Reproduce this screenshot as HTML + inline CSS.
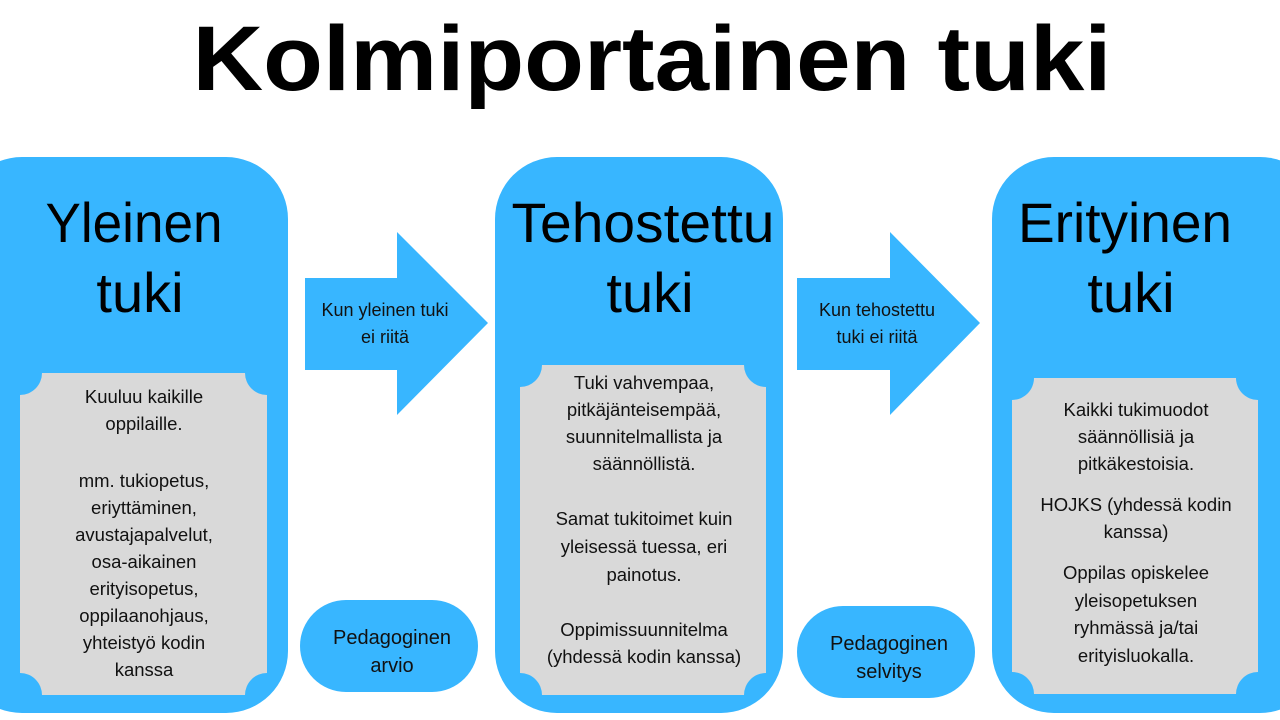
<!DOCTYPE html>
<html><head><meta charset="utf-8"><style>
html,body{margin:0;padding:0;background:#fff;}
svg{display:block;font-family:"Liberation Sans",sans-serif;}
</style></head><body>
<svg width="1280" height="720" viewBox="0 0 1280 720" xmlns="http://www.w3.org/2000/svg">
<text x="652" y="90" text-anchor="middle" font-size="92" font-weight="bold" textLength="919" lengthAdjust="spacingAndGlyphs" fill="#000">Kolmiportainen tuki</text>
<g fill="#38b6ff">
<rect x="-40" y="157" width="328" height="556" rx="62"/>
<rect x="495" y="157" width="288" height="556" rx="62"/>
<rect x="992" y="157" width="330" height="556" rx="62"/>
<polygon points="305,278 397,278 397,232 488,323 397,415 397,370 305,370"/>
<polygon points="797,278 890,278 890,232 980,323 890,415 890,370 797,370"/>
<rect x="300" y="600" width="178" height="92" rx="46"/>
<rect x="797" y="606" width="178" height="92" rx="46"/>
</g>
<g fill="#d9d9d9">
<path d="M42,373 L245,373 A22,22 0 0 0 267,395 L267,673 A22,22 0 0 0 245,695 L42,695 A22,22 0 0 0 20,673 L20,395 A22,22 0 0 0 42,373 Z"/>
<path d="M542,365 L744,365 A22,22 0 0 0 766,387 L766,673 A22,22 0 0 0 744,695 L542,695 A22,22 0 0 0 520,673 L520,387 A22,22 0 0 0 542,365 Z"/>
<path d="M1034,378 L1236,378 A22,22 0 0 0 1258,400 L1258,672 A22,22 0 0 0 1236,694 L1034,694 A22,22 0 0 0 1012,672 L1012,400 A22,22 0 0 0 1034,378 Z"/>
</g>
<g font-size="56" text-anchor="middle" fill="#000">
<text x="134" y="242" textLength="177" lengthAdjust="spacingAndGlyphs">Yleinen</text>
<text x="140" y="312">tuki</text>
<text x="643" y="242" textLength="263" lengthAdjust="spacingAndGlyphs">Tehostettu</text>
<text x="650" y="312">tuki</text>
<text x="1125" y="242" textLength="214" lengthAdjust="spacingAndGlyphs">Erityinen</text>
<text x="1131" y="312">tuki</text>
</g>
<g font-size="18" text-anchor="middle" fill="#111">
<text x="385" y="316">Kun yleinen tuki</text>
<text x="385" y="343">ei riitä</text>
<text x="877" y="316">Kun tehostettu</text>
<text x="877" y="343">tuki ei riitä</text>
<text x="392" y="644" font-size="20">Pedagoginen</text>
<text x="392" y="672" font-size="20">arvio</text>
<text x="889" y="650" font-size="20">Pedagoginen</text>
<text x="889" y="678" font-size="20">selvitys</text>
<g font-size="18.5">
<text x="144" y="403">Kuuluu kaikille</text>
<text x="144" y="430">oppilaille.</text>
<text x="144" y="487">mm. tukiopetus,</text>
<text x="144" y="514">eriyttäminen,</text>
<text x="144" y="541">avustajapalvelut,</text>
<text x="144" y="568">osa-aikainen</text>
<text x="144" y="595">erityisopetus,</text>
<text x="144" y="622">oppilaanohjaus,</text>
<text x="144" y="649">yhteistyö kodin</text>
<text x="144" y="676">kanssa</text>

<text x="644" y="389">Tuki vahvempaa,</text>
<text x="644" y="416">pitkäjänteisempää,</text>
<text x="644" y="443">suunnitelmallista ja</text>
<text x="644" y="470">säännöllistä.</text>
<text x="644" y="525">Samat tukitoimet kuin</text>
<text x="644" y="553">yleisessä tuessa, eri</text>
<text x="644" y="581">painotus.</text>
<text x="644" y="636">Oppimissuunnitelma</text>
<text x="644" y="663">(yhdessä kodin kanssa)</text>

<text x="1136" y="416">Kaikki tukimuodot</text>
<text x="1136" y="443">säännöllisiä ja</text>
<text x="1136" y="470">pitkäkestoisia.</text>
<text x="1136" y="511">HOJKS (yhdessä kodin</text>
<text x="1136" y="538">kanssa)</text>
<text x="1136" y="579">Oppilas opiskelee</text>
<text x="1136" y="607">yleisopetuksen</text>
<text x="1136" y="634">ryhmässä ja/tai</text>
<text x="1136" y="662">erityisluokalla.</text>
</g>
</g>
</svg>
</body></html>
